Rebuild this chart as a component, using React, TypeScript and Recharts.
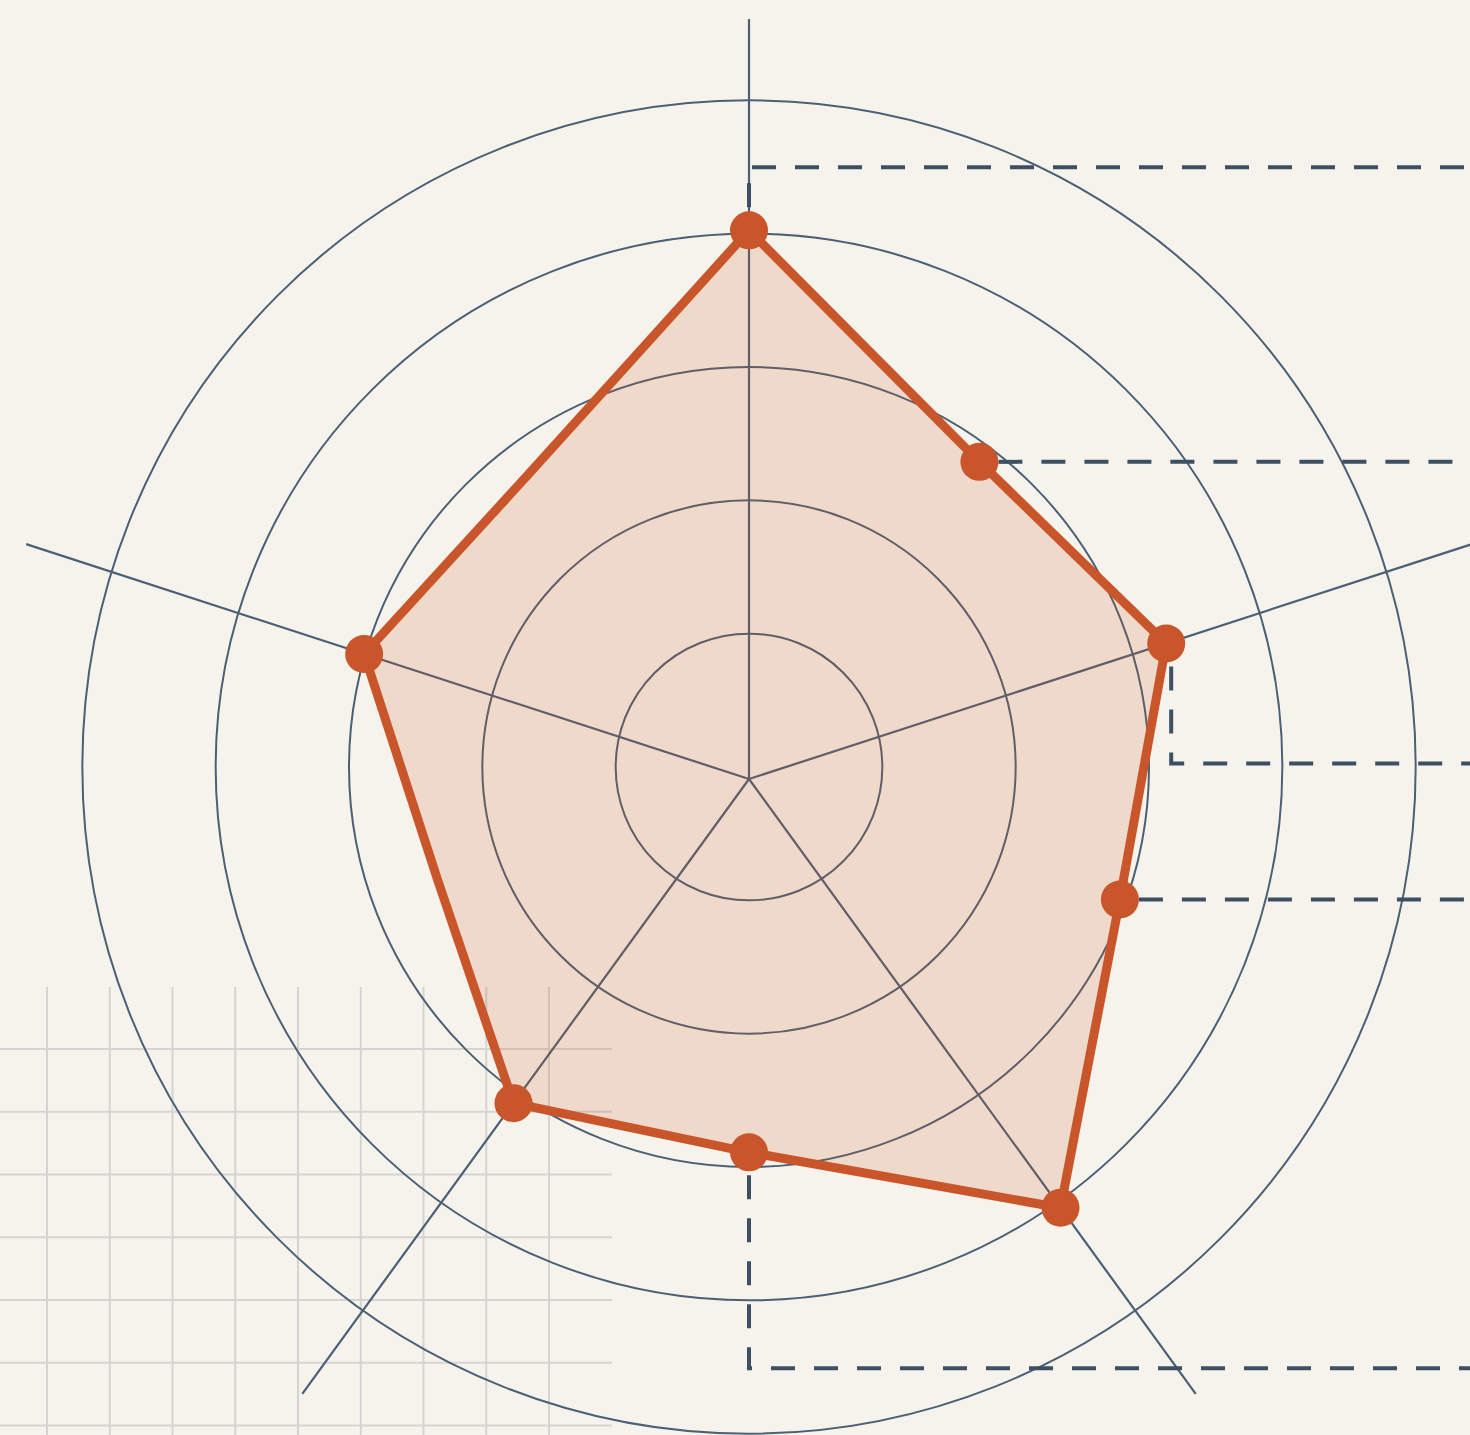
import React from 'react';
import { RadarChart, Radar, PolarGrid, PolarAngleAxis, PolarRadiusAxis } from 'recharts';

// ---- data ----
const categories: string[] = ['A', 'B', 'C', 'D', 'E', 'F', 'G', 'H', 'I', 'J'];
// H and J have no marker: the outline simply passes across their spokes
const values: number[] = [82.3, 58.8, 65.8, 58.5, 79.5, 56, 60.1, 49.1, 60.7, 56.4];
const unmarkedCategories: string[] = ['H', 'J'];
const radiusDomain: [number, number] = [0, 114];
const ringLevels: number[] = [20, 40, 60, 80, 100];
const spokeCategories: string[] = ['A', 'C', 'E', 'G', 'I'];

const data = categories.map((c, i) => ({ axis: c, value: values[i] }));

// ---- layout / style ----
const W = 1470;
const H = 1435;
const CX = 749;
const CY = 779;
const RING_CY = 767;
const OUTER = 760;
const BG = '#f6f3ec';
const GRID = '#4b5f75';
const ORANGE = '#c8562a';
const LEADER = '#3d4f62';

const pxPerUnit = OUTER / (radiusDomain[1] - radiusDomain[0]);
const ringRadii = ringLevels.map((v) => v * pxPerUnit);
const spokeAngles = spokeCategories.map((c) => 90 - (360 / categories.length) * categories.indexOf(c));

// leader lines (decoration) keyed by category index
const LEADERS: Record<number, { dx: number; dy: number }> = {
  0: { dx: 0, dy: -63 },
  1: { dx: 0, dy: 0 },
  2: { dx: 5, dy: 120 },
  3: { dx: 0, dy: 0 },
  5: { dx: 0, dy: 216 },
};

const DOT_R = 19;

const renderDot = (props: any) => {
  const { cx, cy, index, payload } = props;
  const name = payload?.axis ?? categories[index];
  if (
    typeof cx !== 'number' ||
    typeof cy !== 'number' ||
    !isFinite(cx) ||
    !isFinite(cy) ||
    unmarkedCategories.includes(name)
  ) {
    return <g key={`dot-${index}`} />;
  }
  const ld = LEADERS[index];
  let d: string | null = null;
  if (ld) {
    if (ld.dy === 0) {
      d = `M${cx + DOT_R},${cy} H${W}`;
    } else {
      const sy = cy + Math.sign(ld.dy) * (DOT_R + 4);
      d = `M${cx + ld.dx},${sy} V${cy + ld.dy} H${W}`;
    }
  }
  return (
    <g key={`dot-${index}`}>
      {d && <path d={d} fill="none" stroke={LEADER} strokeWidth={4} strokeDasharray="24 19" />}
      <circle cx={cx} cy={cy} r={DOT_R} fill={ORANGE} />
    </g>
  );
};

const BackgroundGrid = () => {
  const vx = Array.from({ length: 9 }, (_, k) => 47 + 62.75 * k);
  const hy = Array.from({ length: 7 }, (_, k) => 1049 + 62.75 * k);
  return (
    <svg width={W} height={H} style={{ position: 'absolute', left: 0, top: 0 }}>
      {vx.map((x) => (
        <line key={`v${x}`} x1={x} x2={x} y1={987} y2={H} stroke="#d4d5d2" strokeWidth={2} />
      ))}
      {hy.map((y) => (
        <line key={`h${y}`} x1={0} x2={612} y1={y} y2={y} stroke="#d4d5d2" strokeWidth={2} />
      ))}
    </svg>
  );
};

const layer: React.CSSProperties = { position: 'absolute', left: 0, top: 0 };
const noMargin = { top: 0, right: 0, bottom: 0, left: 0 };

export default function App() {
  return (
    <div style={{ position: 'absolute', left: 0, top: 0, width: W, height: H, background: BG, overflow: 'hidden' }}>
      <BackgroundGrid />
      {/* concentric rings (centred slightly higher than the spokes) */}
      <div style={layer}>
        <RadarChart width={W} height={H} data={data} cx={CX} cy={RING_CY} outerRadius={OUTER} margin={noMargin}>
          <PolarGrid
            gridType="circle"
            polarRadius={ringRadii}
            polarAngles={[]}
            radialLines={false}
            stroke={GRID}
            strokeWidth={2}
          />
          <PolarAngleAxis dataKey="axis" tick={false} axisLine={false} tickLine={false} />
          <PolarRadiusAxis domain={radiusDomain} tick={false} axisLine={false} tickLine={false} />
        </RadarChart>
      </div>
      {/* spokes + data */}
      <div style={layer}>
        <RadarChart
          width={W}
          height={H}
          data={data}
          cx={CX}
          cy={CY}
          outerRadius={OUTER}
          startAngle={90}
          endAngle={-270}
          margin={noMargin}
        >
          <PolarGrid
            gridType="circle"
            polarRadius={[]}
            polarAngles={spokeAngles}
            radialLines={true}
            stroke={GRID}
            strokeWidth={2.2}
          />
          <PolarAngleAxis dataKey="axis" tick={false} axisLine={false} tickLine={false} />
          <PolarRadiusAxis domain={radiusDomain} tick={false} axisLine={false} tickLine={false} />
          <Radar
            dataKey="value"
            stroke={ORANGE}
            strokeWidth={9}
            strokeLinejoin="round"
            fill={ORANGE}
            fillOpacity={0.17}
            dot={renderDot}
            activeDot={false}
            isAnimationActive={false}
          />
        </RadarChart>
      </div>
    </div>
  );
}
